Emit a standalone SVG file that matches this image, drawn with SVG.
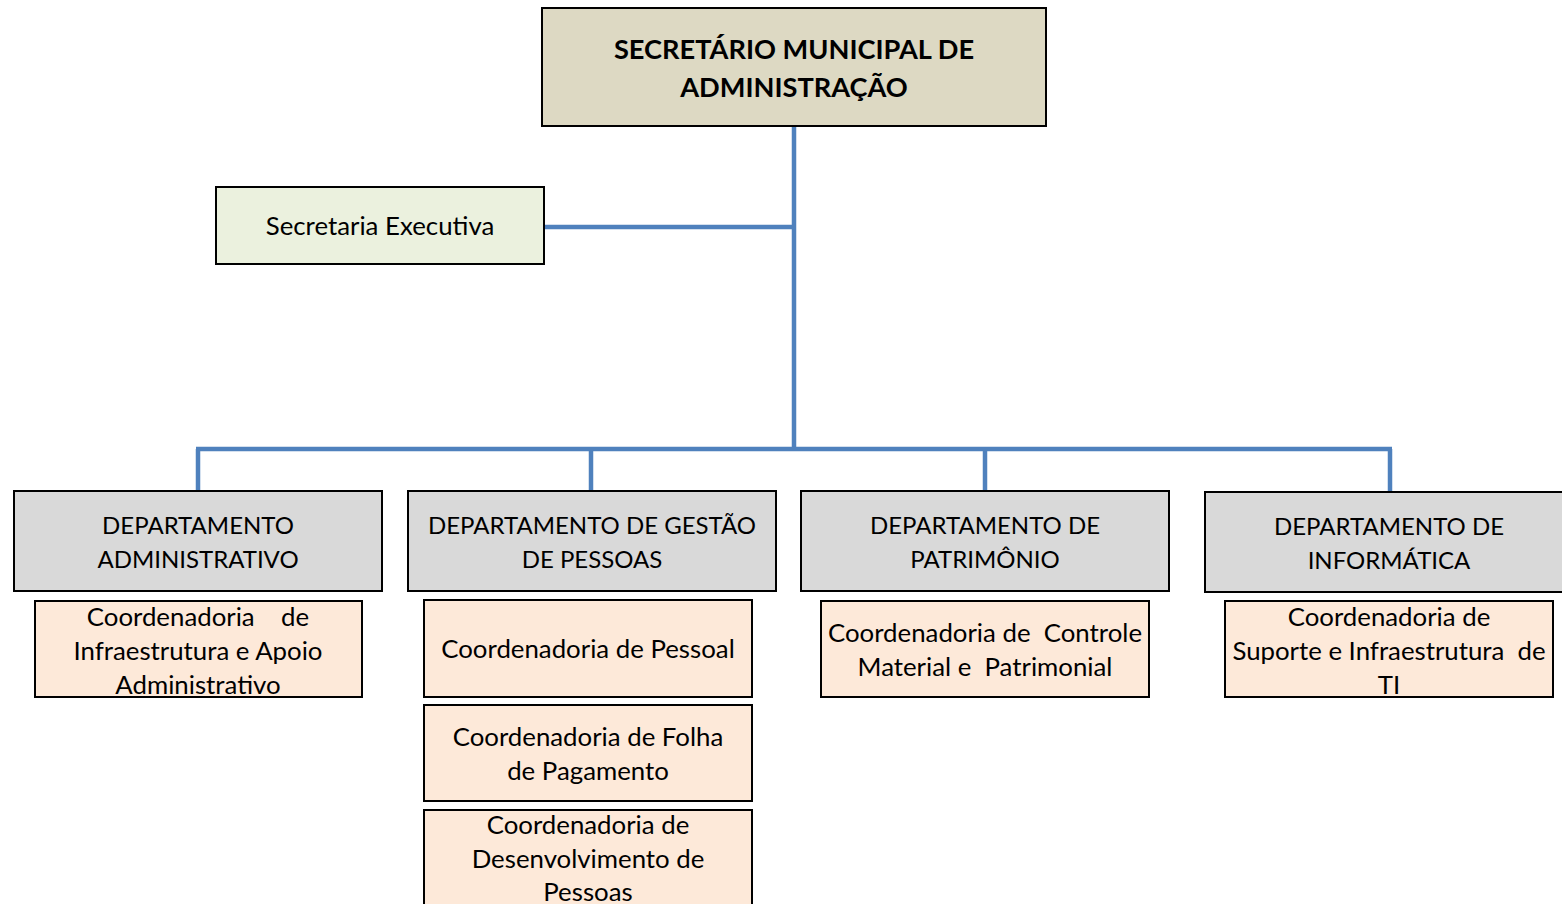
<svg xmlns="http://www.w3.org/2000/svg" width="1562" height="904" viewBox="0 0 1562 904">
<style>
text{font-family:Lato,"Liberation Sans",sans-serif;fill:#000;text-anchor:middle;white-space:pre}
.b{stroke:#000;stroke-width:2}
.top{fill:#ddd9c3}
.exe{fill:#ebf1de}
.dep{fill:#d9d9d9}
.co{fill:#fde9d9}
.t1{font-size:27.2px;font-weight:bold}
.t{font-size:24px}
.c{font-size:25.8px}
.conn line{stroke:#4f81bd;stroke-width:4.5}
</style>
<rect width="1562" height="904" fill="#fff"/>
<g class="conn">
<line x1="794" y1="126" x2="794" y2="451"/>
<line x1="544" y1="227" x2="794" y2="227"/>
<line x1="196" y1="449" x2="1392" y2="449"/>
<line x1="198" y1="449" x2="198" y2="491"/>
<line x1="591" y1="449" x2="591" y2="491"/>
<line x1="985" y1="449" x2="985" y2="491"/>
<line x1="1390" y1="449" x2="1390" y2="492"/>
</g>
<g id="secretario"><rect class="b top" x="542" y="8" width="504" height="118"/>
<text class="t1" x="794" y="59">SECRETÁRIO MUNICIPAL DE</text>
<text class="t1" x="794" y="97">ADMINISTRAÇÃO</text></g>
<g id="secretaria-executiva"><rect class="b exe" x="216" y="187" width="328" height="77"/>
<text class="c" x="380" y="235">Secretaria Executiva</text></g>
<g id="dep-adm"><rect class="b dep" x="14" y="491" width="368" height="100"/>
<text class="t" x="198" y="534">DEPARTAMENTO</text>
<text class="t" x="198" y="568">ADMINISTRATIVO</text></g>
<g id="dep-pessoas"><rect class="b dep" x="408" y="491" width="368" height="100"/>
<text class="t" x="592" y="534">DEPARTAMENTO DE GESTÃO</text>
<text class="t" x="592" y="568">DE PESSOAS</text></g>
<g id="dep-patrimonio"><rect class="b dep" x="801" y="491" width="368" height="100"/>
<text class="t" x="985" y="534">DEPARTAMENTO DE</text>
<text class="t" x="985" y="568">PATRIMÔNIO</text></g>
<g id="dep-informatica"><rect class="b dep" x="1205" y="492" width="368" height="100"/>
<text class="t" x="1389" y="535">DEPARTAMENTO DE</text>
<text class="t" x="1389" y="569">INFORMÁTICA</text></g>
<g id="co-infra"><rect class="b co" x="35" y="601" width="327" height="96"/>
<text class="c" x="198" y="626">Coordenadoria    de</text>
<text class="c" x="198" y="660">Infraestrutura e Apoio</text>
<text class="c" x="198" y="694">Administrativo</text></g>
<g id="co-pessoal"><rect class="b co" x="424" y="600" width="328" height="97"/>
<text class="c" x="588" y="658">Coordenadoria de Pessoal</text></g>
<g id="co-folha"><rect class="b co" x="424" y="705" width="328" height="96"/>
<text class="c" x="588" y="746">Coordenadoria de Folha</text>
<text class="c" x="588" y="780">de Pagamento</text></g>
<g id="co-desenv"><rect class="b co" x="424" y="810" width="328" height="100"/>
<text class="c" x="588" y="834">Coordenadoria de</text>
<text class="c" x="588" y="868">Desenvolvimento de</text>
<text class="c" x="588" y="901">Pessoas</text></g>
<g id="co-controle"><rect class="b co" x="821" y="601" width="328" height="96"/>
<text class="c" x="985" y="642">Coordenadoria de  Controle</text>
<text class="c" x="985" y="676">Material e  Patrimonial</text></g>
<g id="co-ti"><rect class="b co" x="1225" y="601" width="328" height="96"/>
<text class="c" x="1389" y="626">Coordenadoria de</text>
<text class="c" x="1389" y="660">Suporte e Infraestrutura  de</text>
<text class="c" x="1389" y="694">TI</text></g>
</svg>
